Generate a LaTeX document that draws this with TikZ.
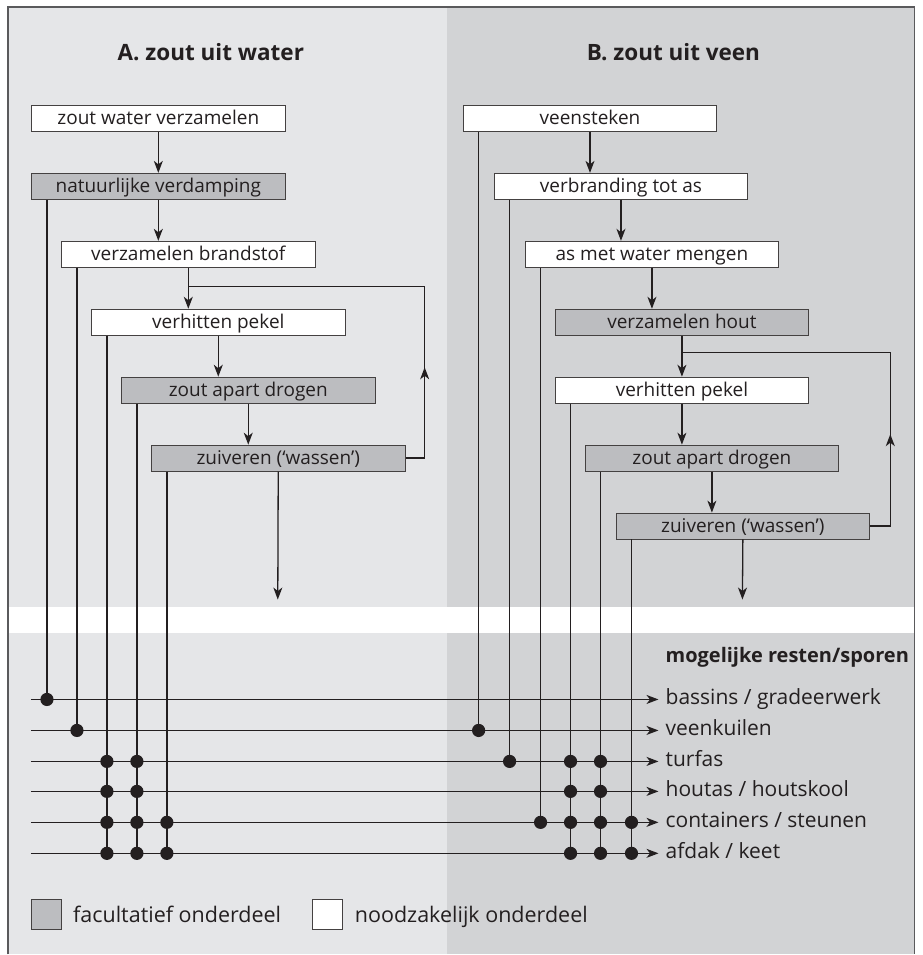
\documentclass[tikz,border=0pt]{standalone}
\usepackage{fontspec}
\setmainfont{Open Sans}
\usetikzlibrary{arrows.meta,calc}
\definecolor{panelA}{HTML}{E5E6E8}
\definecolor{panelB}{HTML}{D2D3D5}
\definecolor{boxgray}{HTML}{BCBDC0}
\definecolor{ink}{HTML}{231F20}
\definecolor{framec}{HTML}{5A5A5C}
\begin{document}
\begin{tikzpicture}[x=1pt,y=-1pt,
 every node/.style={font=\fontsize{19}{22}\selectfont, text=ink},
 stepbox/.style={draw=ink!85, line width=0.9pt, minimum width=254pt, minimum height=26pt, inner sep=0pt, text height=14pt, text depth=2pt, anchor=north west},
 wbox/.style={stepbox, fill=white},
 gbox/.style={stepbox, fill=boxgray},
 conn/.style={draw=ink, line width=1.3pt},
 arr/.style={conn, -{Stealth[length=12pt,width=9pt,inset=3.5pt]}},
 lab/.style={anchor=base west, inner xsep=7pt, inner ysep=0pt, font=\fontsize{21}{24}\selectfont},
 ttl/.style={font=\fontsize{22.5}{26}\selectfont\bfseries, anchor=base},
 legsq/.style={draw=ink!85, line width=0.9pt, minimum size=30pt, inner sep=0pt, anchor=north west},
 legtxt/.style={anchor=base west, inner sep=0pt, font=\fontsize{21.5}{24}\selectfont},
]
% background
\fill[white] (0,0) rectangle (923,955);
\fill[panelA] (8,7) rectangle (447,955);
\fill[panelB] (447,7) rectangle (915,955);
\fill[white] (8,607) rectangle (915,633);
\draw[framec, line width=1.5pt] (8,955) -- (8,7) -- (915,7) -- (915,955);
\useasboundingbox (0,0) rectangle (923,955);

% titles
\node[ttl] (tA) at (211,61) {A. zout uit water};
\node[ttl] (tB) at (674,61) {B. zout uit veen};

% boxes A
\node[wbox] (a1) at (31,105) {zout water verzamelen};
\node[gbox] (a2) at (31,173) {natuurlijke verdamping};
\node[wbox] (a3) at (61,241) {verzamelen brandstof};
\node[wbox] (a4) at (91,309) {verhitten pekel};
\node[gbox] (a5) at (121,377) {zout apart drogen};
\node[gbox] (a6) at (151,445) {zuiveren (‘wassen’)};

% boxes B
\node[wbox] (b1) at (463,105) {veensteken};
\node[wbox] (b2) at (494,173) {verbranding tot as};
\node[wbox] (b3) at (525,241) {as met water mengen};
\node[gbox] (b4) at (555,309) {verzamelen hout};
\node[wbox] (b5) at (555,377) {verhitten pekel};
\node[gbox] (b6) at (585,445) {zout apart drogen};
\node[gbox] (b7) at (616,513) {zuiveren (‘wassen’)};

% flow arrows A
\draw[arr] (a1.south) -- (a2.north);
\draw[arr] (a2.south) -- (a2.south |- a3.north);
\draw[arr] (a3.south) -- (a3.south |- a4.north);
\draw[arr] (a4.south) -- (a4.south |- a5.north);
\draw[arr] (a5.south) -- (a5.south |- a6.north);
\coordinate (endA) at (278,600);
\draw[arr] (a6.south) -- (endA);
\coordinate (loopA) at (425,287);
\draw[conn] (a6.east) -| (loopA) -- (a3.south |- loopA);
\draw[arr] (a6.east -| loopA) -- ($(a6.east -| loopA)!0.53!(loopA)$);

% flow arrows B
\draw[arr] (b1.south) -- (b1.south |- b2.north);
\draw[arr] (b2.south) -- (b2.south |- b3.north);
\draw[arr] (b3.south) -- (b3.south |- b4.north);
\draw[arr] (b4.south) -- (b5.north);
\draw[arr] (b5.south) -- (b5.south |- b6.north);
\draw[arr] (b6.south) -- (b6.south |- b7.north);
\coordinate (endB) at (743,600);
\draw[arr] (b7.south) -- (endB);
\coordinate (loopB) at (891,353);
\draw[conn] (b7.east) -| (loopB) -- (b4.south |- loopB);
\draw[arr] (b7.east -| loopB) -- ($(b7.east -| loopB)!0.53!(loopB)$);

% remains header and labels
\node[anchor=base west, inner sep=0pt, font=\fontsize{20}{23}\selectfont\bfseries] (hdr) at (666,663) {mogelijke resten/sporen};
\node[lab] (r1) at (659,705) {bassins / gradeerwerk};
\node[lab] (r2) at (659,736) {veenkuilen};
\node[lab] (r3) at (659,767) {turfas};
\node[lab] (r4) at (659,797) {houtas / houtskool};
\node[lab] (r5) at (659,828) {containers / steunen};
\node[lab] (r6) at (659,859) {afdak / keet};
\coordinate (s1) at (31,700);
\coordinate (s2) at (31,731);
\coordinate (s3) at (31,762);
\coordinate (s4) at (31,792);
\coordinate (s5) at (31,823);
\coordinate (s6) at (31,854);
\foreach \i in {1,...,6} \draw[arr] (s\i) -- (s\i -| r\i.west);

% vertical drops
\foreach \b in {a2,a3,a4,a5,a6,b1,b2,b3,b5,b6,b7}
  \coordinate (v\b) at ([xshift=16pt]\b.south west);
\draw[conn] (va2) -- (va2 |- s1);
\draw[conn] (va3) -- (va3 |- s2);
\draw[conn] (va4) -- (va4 |- s6);
\draw[conn] (va5) -- (va5 |- s6);
\draw[conn] (va6) -- (va6 |- s6);
\draw[conn] (vb1) -- (vb1 |- s2);
\draw[conn] (vb2) -- (vb2 |- s3);
\draw[conn] (vb3) -- (vb3 |- s5);
\draw[conn] (vb5) -- (vb5 |- s6);
\draw[conn] (vb6) -- (vb6 |- s6);
\draw[conn] (vb7) -- (vb7 |- s6);

% dots
\foreach \v/\s in {va2/s1, va3/s2,
  va4/s3, va4/s4, va4/s5, va4/s6,
  va5/s3, va5/s4, va5/s5, va5/s6,
  va6/s5, va6/s6,
  vb1/s2, vb2/s3, vb3/s5,
  vb5/s3, vb5/s4, vb5/s5, vb5/s6,
  vb6/s3, vb6/s4, vb6/s5, vb6/s6,
  vb7/s5, vb7/s6}
  \fill[ink] (\v |- \s) circle (6.6pt);

% legend
\node[legsq, fill=boxgray] (lg1) at (31,900) {};
\node[legtxt] (lt1) at (73,923) {facultatief onderdeel};
\node[legsq, fill=white] (lg2) at (312,900) {};
\node[legtxt] (lt2) at (355,923) {noodzakelijk onderdeel};
\end{tikzpicture}
\end{document}
